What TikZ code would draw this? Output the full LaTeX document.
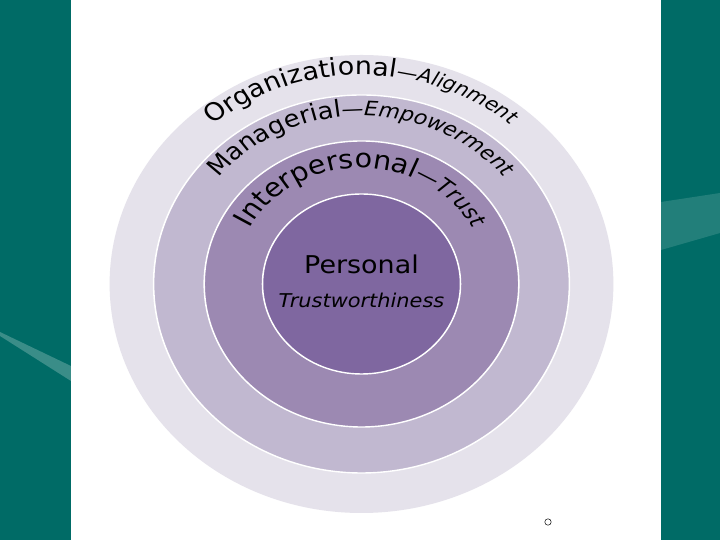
\documentclass[tikz,border=0pt]{standalone}
\usepackage{fontspec}
\setmainfont{DejaVu Sans}
\usetikzlibrary{decorations.text}

\definecolor{slideteal}{HTML}{006B66}
\definecolor{swoosh}{HTML}{3A8D88}
\definecolor{ringA}{HTML}{E5E2EB}
\definecolor{ringB}{HTML}{C1B8D0}
\definecolor{ringC}{HTML}{9C89B2}
\definecolor{ringD}{HTML}{7F67A0}

\begin{document}
\begin{tikzpicture}[x=1pt, y=1pt,
  ring/.style={draw=white, line width=1.4pt},
  arctext/.style={decorate, decoration={text along path, text align=center, text={#1}}},
  ctr/.style={anchor=base, inner sep=0pt, text=black},
]
\useasboundingbox (0,0) rectangle (720,540);

% ====== slide background ======
\fill[slideteal] (0,0) rectangle (720,540);
\fill[swoosh] (0,208) -- (71,174) -- (71,159) -- (0,204) -- cycle;
\fill[swoosh, opacity=0.6] (661,338) -- (720,347) -- (720,307) -- (661,290) -- cycle;
\fill[white] (71,0) rectangle (661,540);
\draw[line width=0.5pt] (548,18) circle (3.2);

% ====== rings (the slide stretches them a little sideways) ======
\begin{scope}[transform canvas={xshift=361.5pt, yshift=256pt, xscale=1.1}]
  \fill[ringA] (0,0) circle (229);
  \fill[ringB, ring] (0,0) circle (189);
  \fill[ringC, ring] (0,0) circle (143);
  \fill[ringD, ring] (0,0) circle (90);

  \path[arctext={|\fontsize{24.5}{24}\selectfont|Organizational|\fontsize{19}{19}\selectfont\itshape|—Alignment}]
    (170:209) arc[start angle=170, end angle=10, radius=209];
  \path[arctext={|\fontsize{23.5}{23}\selectfont|Managerial|\fontsize{20}{20}\selectfont\itshape|—Empowerment}]
    (170:168) arc[start angle=170, end angle=10, radius=168];
  \path[arctext={|\fontsize{26}{26}\selectfont|Interpersonal|\fontsize{21}{21}\selectfont\itshape|—Trust}]
    (175:116) arc[start angle=175, end angle=5, radius=116];

  \node[ctr, font=\fontsize{24.5}{28}\selectfont] (personal) at (0,10) {Personal};
  \node[ctr, font=\fontsize{19}{22}\selectfont\itshape] (trustw) at (0,-24) {Trustworthiness};
\end{scope}

\end{tikzpicture}
\end{document}
